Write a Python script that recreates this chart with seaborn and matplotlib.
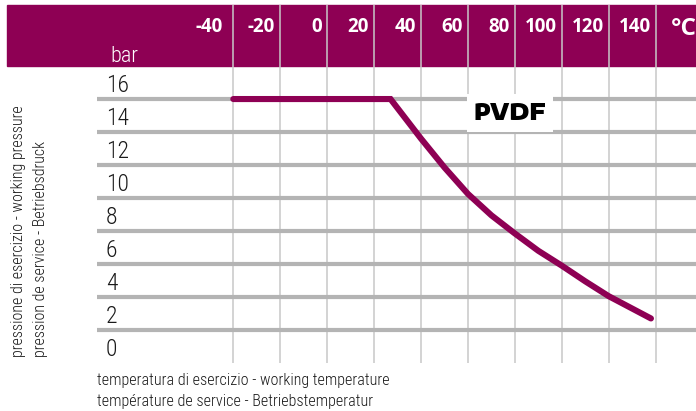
import matplotlib
matplotlib.use("Agg")
import matplotlib.pyplot as plt
import matplotlib.transforms as mtransforms
from matplotlib.patches import Rectangle
import seaborn as sns

temperature = [-40, 27, 40, 50, 60, 70, 80, 90, 100, 110, 120, 130, 138]
pressure = [16, 16, 13.6, 11.85, 10.25, 8.95, 7.85, 6.8, 5.9, 4.95, 4.05, 3.3, 2.7]

x_ticks = [-40, -20, 0, 20, 40, 60, 80, 100, 120, 140]
y_ticks = [0, 2, 4, 6, 8, 10, 12, 14, 16]

unit_x = "°C"
unit_y = "bar"
material = "PVDF"
ylabel_lines = ["pressione di esercizio - working pressure",
                "pression de service - Betriebsdruck"]
xlabel_lines = ["temperatura di esercizio - working temperature",
                "température de service - Betriebstemperatur"]

PURPLE = "#8e0054"
TEXT = "#1a1a1a"
NARROW = ['Roboto Condensed', 'DejaVu Sans']
W, H = 696, 411


def fx(px):
    return px / W


def fy(py):
    return 1 - py / H


def main():
    sns.set_theme(style="white")
    plt.rcParams['font.family'] = NARROW

    fig = plt.figure(figsize=(W / 100, H / 100), dpi=100)
    ax = fig.add_axes([fx(97), fy(363), fx(696) - fx(97), fy(5) - fy(363)])
    ax.patch.set_visible(False)

    # purple header band
    fig.add_artist(Rectangle((fx(7), fy(66)), fx(696) - fx(7), fy(5) - fy(66),
                             transform=fig.transFigure, color=PURPLE, zorder=-1))

    ax.set_xlim(-98.1, 157.2)
    ax.set_ylim(0, 21.7)
    ax.set_xticks(x_ticks)
    ax.set_yticks(y_ticks[1:])
    ax.tick_params(left=False, bottom=False, labelleft=False, labelbottom=False)
    ax.grid(axis='y', color="#b4b4b4", lw=3.0)
    ax.grid(axis='x', color="#c8c8c8", lw=1.1)
    for s in ax.spines.values():
        s.set_visible(False)

    sns.lineplot(x=temperature, y=pressure, ax=ax, color=PURPLE, lw=4.4,
                 sort=False, estimator=None, solid_capstyle='round',
                 solid_joinstyle='miter', zorder=5)

    # header temperature labels, right-aligned to the left of each line
    head = mtransforms.blended_transform_factory(ax.transData, fig.transFigure)
    for i, t in enumerate(x_ticks):
        shift = 11 if i == 0 else 5
        tr = head + mtransforms.ScaledTranslation(-shift / 100, 0, fig.dpi_scale_trans)
        ax.text(t, fy(32), str(t), transform=tr, ha='right', va='baseline',
                color='white', fontsize=13.5, fontweight='bold',
                family=['Open Sans', 'DejaVu Sans'])
    fig.text(fx(671), fy(35), unit_x, ha='left', va='baseline', color='white',
             fontsize=17.5, fontweight='bold', family=['Open Sans', 'DejaVu Sans'])
    fig.text(fx(110), fy(62.5), unit_y, ha='left', va='baseline', color='white',
             fontsize=16, fontweight='light')

    # pressure labels sitting just above their grid line
    side = mtransforms.blended_transform_factory(ax.transAxes, ax.transData)
    side = side + mtransforms.ScaledTranslation(0, 7 / 100, fig.dpi_scale_trans)
    for v in y_ticks:
        ax.text(0.015, v, str(v), transform=side, ha='left', va='baseline',
                color=TEXT, fontsize=17, fontweight='light')

    ax.text(78, 15.15, material, ha='center', va='center', fontsize=16,
            fontweight='black', family=['Encode Sans Expanded', 'DejaVu Sans'],
            color='black', zorder=4,
            bbox=dict(boxstyle='square,pad=0.3', fc='white', ec='none'))

    fig.text(fx(22.5), fy(357), ylabel_lines[0], rotation=90, rotation_mode='anchor',
             ha='left', va='baseline', fontsize=11.5, color=TEXT, fontweight='light')
    fig.text(fx(45.5), fy(357), ylabel_lines[1], rotation=90, rotation_mode='anchor',
             ha='left', va='baseline', fontsize=11.5, color=TEXT, fontweight='light')
    fig.text(fx(97), fy(385), xlabel_lines[0], ha='left', va='baseline',
             fontsize=11.6, color=TEXT, fontweight='light')
    fig.text(fx(97), fy(406), xlabel_lines[1], ha='left', va='baseline',
             fontsize=11.6, color=TEXT, fontweight='light')

    fig.savefig("out.png", dpi=100)


if __name__ == "__main__":
    main()
